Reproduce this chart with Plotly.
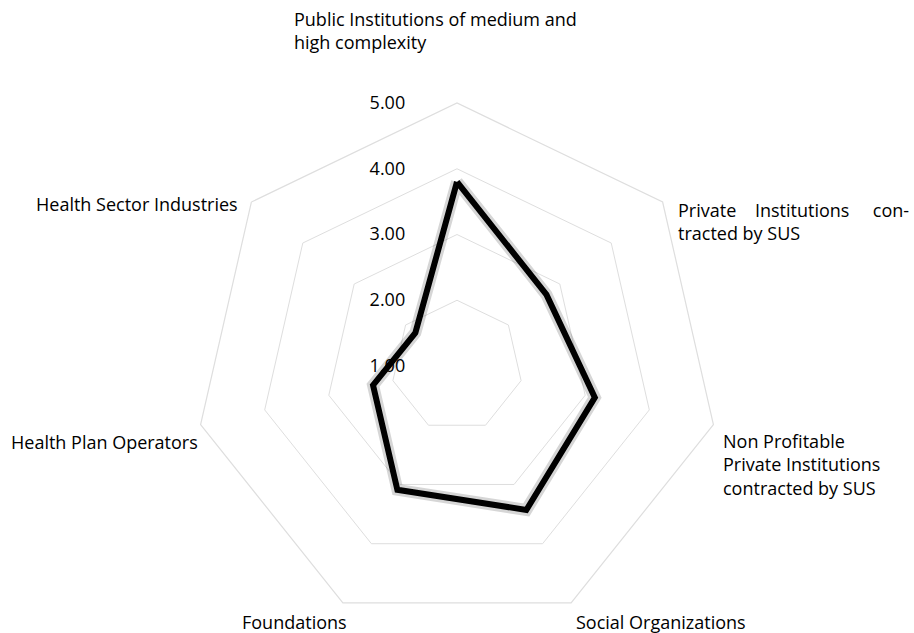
import plotly.graph_objects as go

categories = [
    "Public Institutions of medium and high complexity",
    "Private Institutions contracted by SUS",
    "Non Profitable Private Institutions contracted by SUS",
    "Social Organizations",
    "Foundations",
    "Health Plan Operators",
    "Health Sector Industries",
]
values = [3.80, 2.74, 3.15, 3.43, 3.09, 2.31, 1.81]
radial_ticks = [1, 2, 3, 4, 5]
radial_ticklabels = ["1.00", "2.00", "3.00", "4.00", "5.00"]

theta = categories + [categories[0]]
r = values + [values[0]]

FONT = "Open Sans"
FS = 18
fig = go.Figure()
# soft shadow
fig.add_trace(go.Scatterpolar(r=r, theta=theta, mode="lines",
                              line=dict(color="rgba(0,0,0,0.16)", width=12),
                              hoverinfo="skip", showlegend=False))
fig.add_trace(go.Scatterpolar(r=r, theta=theta, mode="lines",
                              line=dict(color="black", width=6),
                              showlegend=False))

fig.update_layout(
    width=914, height=633,
    margin=dict(l=0, r=0, t=0, b=0),
    paper_bgcolor="white",
    font=dict(family=FONT, size=FS, color="black"),
    polar=dict(
        domain=dict(x=[194/914, 720/914], y=[1-629/633, 1-103/633]),
        bgcolor="white",
        gridshape="linear",
        radialaxis=dict(range=[1, 5], tickvals=radial_ticks, ticktext=radial_ticklabels,
                        angle=90, tickangle=90, side="counterclockwise",
                        showline=False, gridcolor="#dedede", gridwidth=1.2,
                        ticks="outside", ticklen=45, tickcolor="rgba(0,0,0,0)",
                        tickfont=dict(size=FS, family=FONT)),
        angularaxis=dict(rotation=90, direction="clockwise", showticklabels=False,
                         showgrid=False, showline=True, linecolor="#dedede", linewidth=1.2,
                         ticks=""),
    ),
)

labels = [
    ("Public Institutions of medium and<br>high complexity", 292, 5),
    ("Private\u00a0\u00a0\u00a0\u00a0Institutions\u00a0\u00a0\u00a0\u00a0\u00a0con-<br>tracted by SUS", 676, 196),
    ("Non Profitable<br>Private Institutions<br>contracted by SUS", 721, 427),
    ("Social Organizations", 574, 608),
    ("Foundations", 240, 608),
    ("Health Plan Operators", 9, 428),
    ("Health Sector Industries", 34, 190),
]
for text, x, y in labels:
    fig.add_annotation(text=text, x=x/914, y=1-y/633, xref="paper", yref="paper",
                       xanchor="left", yanchor="top", align="left", showarrow=False,
                       font=dict(family=FONT, size=FS, color="black"))

fig.write_html("out.html")
